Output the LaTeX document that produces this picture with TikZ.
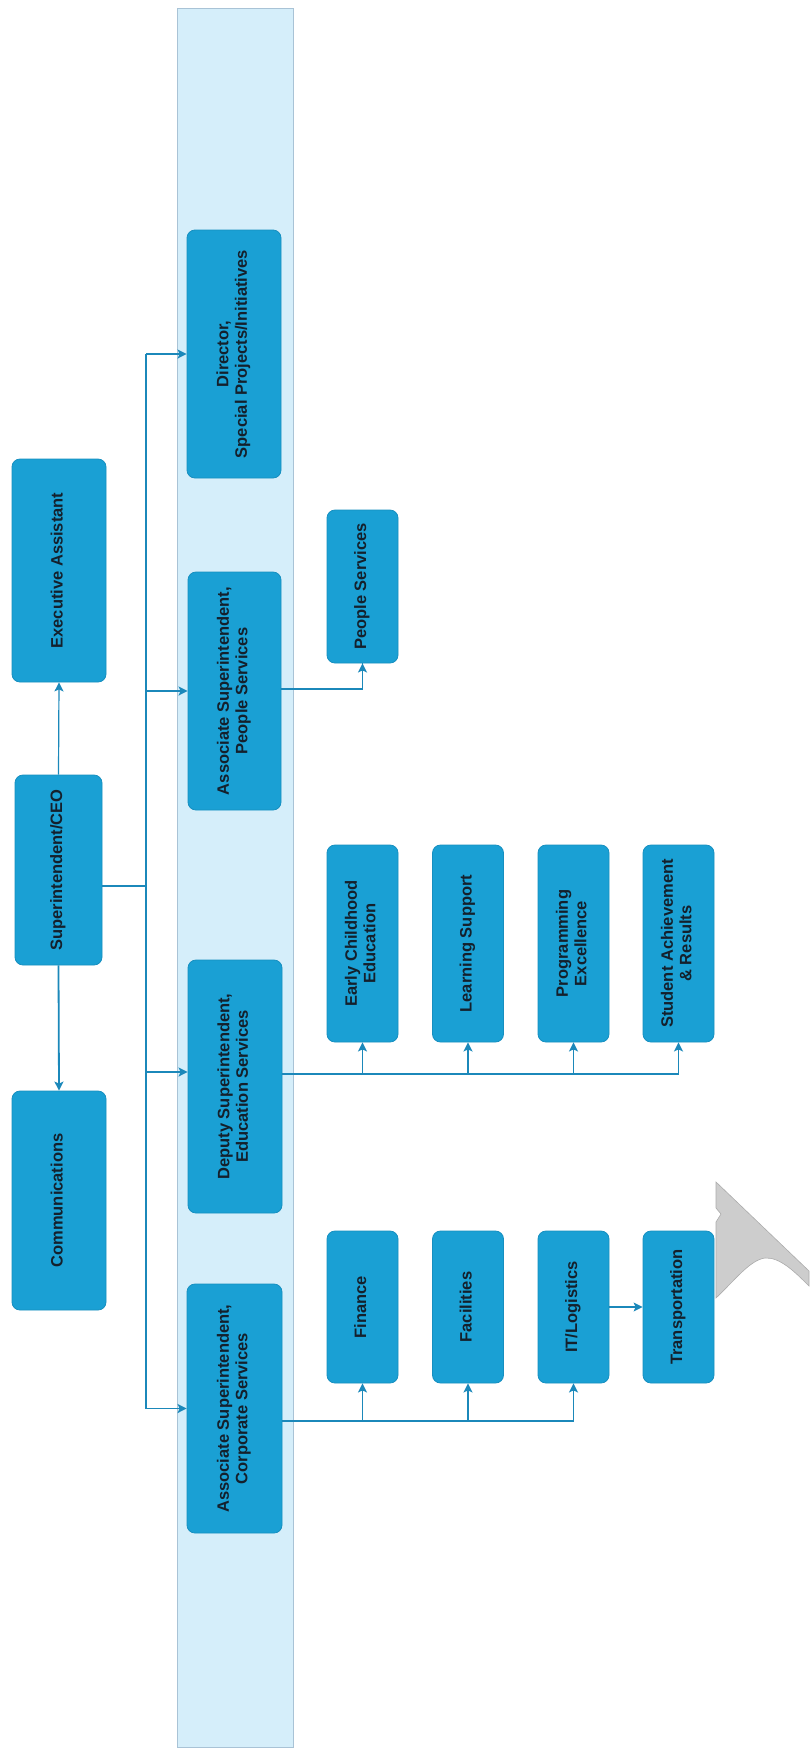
\documentclass[tikz,border=0pt]{standalone}
\usepackage{fontspec}
\setmainfont{Liberation Sans}
\usetikzlibrary{arrows.meta}
\definecolor{boxblue}{HTML}{1AA0D4}
\definecolor{boxedge}{HTML}{168FC0}
\definecolor{bandfill}{HTML}{D5EEFA}
\definecolor{bandedge}{HTML}{A9C3D6}
\definecolor{linecol}{HTML}{1B88BA}
\definecolor{textcol}{HTML}{14202C}
\definecolor{greyshape}{HTML}{CDCDCD}
\newcommand\rt[1]{\rotatebox{90}{\begin{tabular}{@{}c@{}}#1\end{tabular}}}
\begin{document}
\begin{tikzpicture}[x=1pt,y=-1pt,
  box/.style={draw=boxedge, fill=boxblue, rounded corners=8pt, line width=0.8pt,
    inner sep=0pt, text=textcol, font=\bfseries\fontsize{16.5}{18.5}\selectfont},
  conn/.style={draw=linecol, line width=1.8pt},
  thinconn/.style={draw=linecol, line width=1.2pt},
  tip/.style={-{Stealth[length=9pt,width=9pt,inset=2pt]}}]
\useasboundingbox (0,0) rectangle (809,1754);
\fill[white] (0,0) rectangle (809,1754);
% band
\draw[fill=bandfill, draw=bandedge, line width=0.8pt] (177,8) rectangle (293,1747);
% left column
\node[box, minimum width=94pt, minimum height=223pt] (ea) at (59,570.5) {\rt{Executive Assistant}};
\node[box, minimum width=87pt, minimum height=190pt] (ceo) at (58.5,870) {\rt{Superintendent/CEO}};
\node[box, minimum width=94pt, minimum height=219pt] (comm) at (59,1200.5) {\rt{Communications}};
% band column
\node[box, minimum width=94pt, minimum height=248pt] (dir) at (234,354) {\rt{Director,\\Special Projects/Initiatives}};
\node[box, minimum width=93pt, minimum height=238pt] (asp) at (234.5,691) {\rt{Associate Superintendent,\\People Services}};
\node[box, minimum width=94pt, minimum height=253pt] (dep) at (235,1086.5) {\rt{Deputy Superintendent,\\Education Services}};
\node[box, minimum width=95pt, minimum height=249pt] (asc) at (234.5,1408.5) {\rt{Associate Superintendent,\\Corporate Services}};
% people services
\node[box, minimum width=71pt, minimum height=153pt] (ps) at (362.5,586.5) {\rt{People Services}};
% education
\node[box, minimum width=71pt, minimum height=197pt] (ece) at (362.5,943.5) {\rt{Early Childhood\\Education}};
\node[box, minimum width=71pt, minimum height=197pt] (ls) at (468,943.5) {\rt{Learning Support}};
\node[box, minimum width=71pt, minimum height=197pt] (pe) at (573.5,943.5) {\rt{Programming\\Excellence}};
\node[box, minimum width=71pt, minimum height=197pt] (sar) at (678.5,943.5) {\rt{Student Achievement\\\& Results}};
% corporate
\node[box, minimum width=71pt, minimum height=152pt] (fin) at (362.5,1307) {\rt{Finance}};
\node[box, minimum width=71pt, minimum height=152pt] (fac) at (468,1307) {\rt{Facilities}};
\node[box, minimum width=71pt, minimum height=152pt] (it) at (573.5,1307) {\rt{IT/Logistics}};
\node[box, minimum width=71pt, minimum height=152pt] (tr) at (678.5,1307) {\rt{Transportation}};
% coordinates
\coordinate (tTop) at (146,354);
\coordinate (tBot) at (146,1408.5);
\coordinate (tCeo) at (146,886);
\coordinate (tAsp) at (146,691);
\coordinate (tDep) at (146,1072);
\coordinate (ceoOut) at (102,886);
\coordinate (depOut) at (282,1074);
\coordinate (eduEnd) at (678.5,1074);
\coordinate (aspOut) at (281,689);
\coordinate (corpOut) at (282,1421);
\coordinate (corpEnd) at (573.5,1421);
% connectors
\draw[thinconn, tip] (ceo.north) -- (ea.south);
\draw[conn, tip] (ceo.south) -- (comm.north);
\draw[conn] (ceoOut) -- (tCeo);
\draw[conn] (tTop) -- (tBot);
\draw[conn, tip] (tTop) -- (dir.west);
\draw[conn, tip] (tAsp) -- (asp.west);
\draw[conn, tip] (tDep) -- (tDep -| dep.west);
\draw[conn, tip] (tBot) -- (asc.west);
\draw[conn] (aspOut) -| (ps.south);
\draw[conn, tip] (ps.south |- aspOut) -- (ps.south);
\draw[conn] (depOut) -- (eduEnd);
\draw[conn, tip] (ece.south |- depOut) -- (ece.south);
\draw[conn, tip] (ls.south |- depOut) -- (ls.south);
\draw[conn, tip] (pe.south |- depOut) -- (pe.south);
\draw[conn, tip] (eduEnd) -- (sar.south);
\draw[conn] (corpOut) -- (corpEnd);
\draw[conn, tip] (fin.south |- corpOut) -- (fin.south);
\draw[conn, tip] (fac.south |- corpOut) -- (fac.south);
\draw[conn, tip] (corpEnd) -- (it.south);
\draw[thinconn, tip] (it.east) -- (tr.west);
% grey shape
\draw[fill=greyshape, draw=gray!65, line width=0.6pt]
  (716,1182) -- (809,1271) -- (809,1286)
  .. controls (795,1272) and (780,1257) .. (765,1258)
  .. controls (750,1260) and (735,1280) .. (716,1298)
  -- (716,1222) -- (721,1214) -- (716,1208) -- cycle;
\end{tikzpicture}
\end{document}
